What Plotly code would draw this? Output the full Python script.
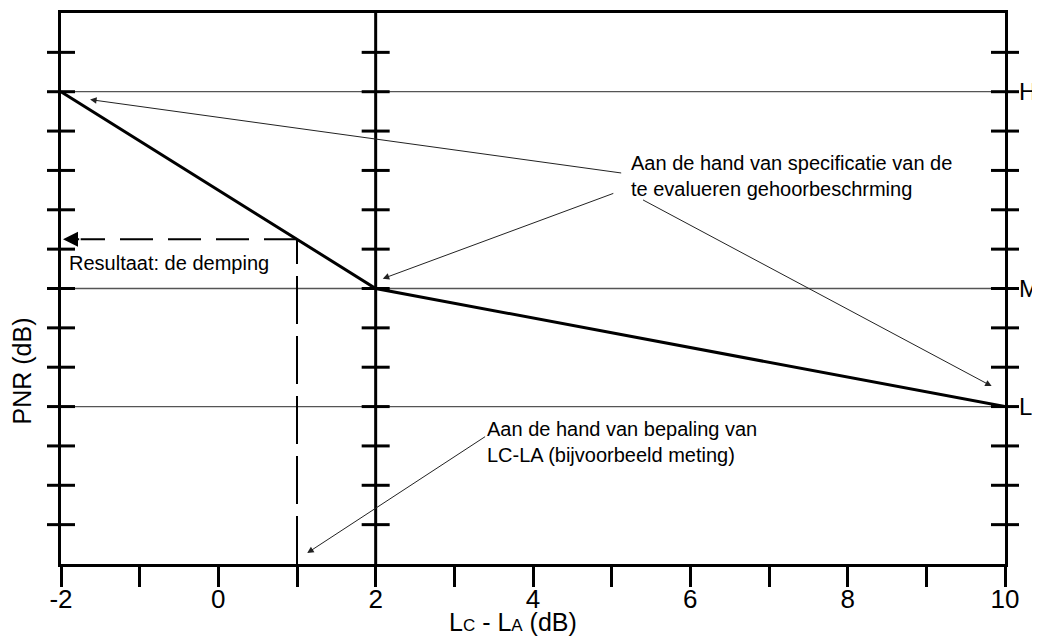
import plotly.graph_objects as go

# ---- data ----
curve_x = [-2, 2, 10]
curve_pnr = [12, 7, 4]
level_names = ["H", "M", "L"]
level_values = [12, 7, 4]
result_x = 1.0
result_y = 8.25
y_tick_values = list(range(1, 14))
x_tick_values = list(range(-2, 11))
x_tick_labels = [str(v) if v % 2 == 0 else "" for v in x_tick_values]
axis_positions = [-2, 2, 10]
x_range = [-2, 10]
y_range = [0, 14]

# annotation arrows: (head_x, head_y, tail_x, tail_y)
spec_arrows = [(-1.63, 11.80, 5.14, 9.93),
               (2.09, 7.25, 5.04, 9.43),
               (9.83, 4.52, 5.38, 9.27)]
meas_arrow = (1.13, 0.28, 3.41, 3.26)

FONT = "Liberation Sans, Arial, sans-serif"

fig = go.Figure()

# horizontal reference lines H, M, L
for v in level_values:
    fig.add_trace(go.Scatter(x=x_range, y=[v, v], mode="lines",
                             line=dict(color="#555555", width=1.3),
                             hoverinfo="skip", showlegend=False))

# middle vertical axis at x=2
fig.add_trace(go.Scatter(x=[axis_positions[1]] * 2, y=y_range, mode="lines",
                         line=dict(color="black", width=3),
                         hoverinfo="skip", showlegend=False))

# crossing tick marks on the three vertical axes
for pos in axis_positions:
    fig.add_trace(go.Scatter(x=[pos] * len(y_tick_values), y=y_tick_values,
                             mode="markers", cliponaxis=False,
                             marker=dict(symbol="line-ew", size=20,
                                         line=dict(color="black", width=3)),
                             hoverinfo="skip", showlegend=False))

# main curve
fig.add_trace(go.Scatter(x=curve_x, y=curve_pnr, mode="lines",
                         line=dict(color="black", width=3),
                         hoverinfo="skip", showlegend=False))

# dashed result lines
fig.add_trace(go.Scatter(x=[result_x, result_x], y=[y_range[0], result_y], mode="lines",
                         line=dict(color="black", width=2, dash="48px,12px"),
                         hoverinfo="skip", showlegend=False))
fig.add_trace(go.Scatter(x=[result_x, x_range[0] + 0.25], y=[result_y, result_y], mode="lines",
                         line=dict(color="black", width=2, dash="33px,15px"),
                         hoverinfo="skip", showlegend=False))

annotations = []
# result arrowhead
annotations.append(dict(x=x_range[0], y=result_y, ax=x_range[0] + 0.25, ay=result_y,
                        xref="x", yref="y", axref="x", ayref="y", text="",
                        showarrow=True, arrowhead=2, arrowsize=1.5, arrowwidth=2,
                        arrowcolor="black", standoff=2))
for hx, hy, tx, ty in spec_arrows + [meas_arrow]:
    annotations.append(dict(x=hx, y=hy, ax=tx, ay=ty, xref="x", yref="y",
                            axref="x", ayref="y", text="", showarrow=True,
                            arrowhead=2, arrowsize=1.3, arrowwidth=1,
                            arrowcolor="#222222", standoff=0))

# texts
annotations.append(dict(x=5.22, y=9.86, xref="x", yref="y", xanchor="left", yanchor="middle",
                        align="left", showarrow=False,
                        text="Aan de hand van specificatie van de<br>te evalueren gehoorbeschrming",
                        font=dict(size=20, color="black", family=FONT)))
annotations.append(dict(x=3.39, y=3.11, xref="x", yref="y", xanchor="left", yanchor="middle",
                        align="left", showarrow=False,
                        text="Aan de hand van bepaling van<br>LC-LA (bijvoorbeeld meting)",
                        font=dict(size=20, color="black", family=FONT)))
annotations.append(dict(x=-1.92, y=7.66, xref="x", yref="y", xanchor="left", yanchor="middle",
                        showarrow=False, text="Resultaat: de demping",
                        font=dict(size=20, color="black", family=FONT)))
for name, v in zip(level_names, level_values):
    annotations.append(dict(x=x_range[1], y=v, xref="x", yref="y", xanchor="left",
                            yanchor="middle", xshift=12, showarrow=False, text=name,
                            font=dict(size=24, color="black", family=FONT)))
# axis titles
annotations.append(dict(x=-0.041, y=0.35, xref="paper", yref="paper", textangle=-90,
                        xanchor="center", yanchor="middle",
                        showarrow=False, text="PNR (dB)",
                        font=dict(size=25, color="black", family=FONT)))
annotations.append(dict(x=0.479, y=-0.105, xref="paper", yref="paper",
                        xanchor="center", yanchor="middle",
                        showarrow=False,
                        text='L<span style="font-size:17px">C</span> - L<span style="font-size:17px">A</span> (dB)',
                        font=dict(size=25, color="black", family=FONT)))

fig.update_layout(
    width=1032, height=631,
    margin=dict(l=53, r=35, t=2, b=75),
    paper_bgcolor="white", plot_bgcolor="white",
    showlegend=False,
    annotations=annotations,
    xaxis=dict(range=x_range, showgrid=False, zeroline=False,
               showline=True, linewidth=3, linecolor="black", mirror=True,
               ticks="outside", ticklen=20, tickwidth=3, tickcolor="black",
               tickvals=x_tick_values, ticktext=x_tick_labels,
               ticklabelstandoff=-10,
               tickfont=dict(size=26, color="black", family=FONT)),
    yaxis=dict(range=y_range, showgrid=False, zeroline=False,
               showline=True, linewidth=3, linecolor="black", mirror=True,
               showticklabels=False, ticks=""),
)

fig.write_html("out.html")
